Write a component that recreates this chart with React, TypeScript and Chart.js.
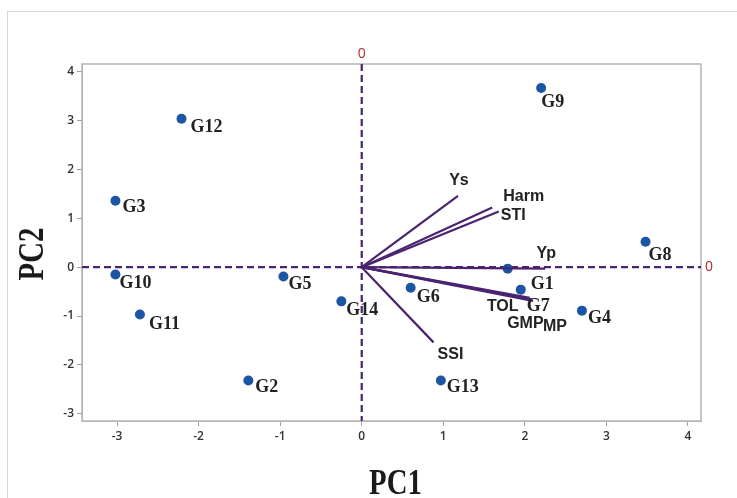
import React, { useEffect, useRef } from "react";
import { Chart, registerables } from "chart.js";

Chart.register(...registerables);

// Genotype scores (biplot points)
const genotypes = ["G1", "G2", "G3", "G4", "G5", "G6", "G7", "G8", "G9", "G10", "G11", "G12", "G13", "G14"];
const pc1Scores = [1.79, -1.39, -3.02, 2.7, -0.96, 0.6, 1.95, 3.48, 2.2, -3.02, -2.72, -2.21, 0.97, -0.25];
const pc2Scores = [-0.03, -2.32, 1.36, -0.89, -0.19, -0.42, -0.46, 0.52, 3.67, -0.15, -0.97, 3.04, -2.32, -0.7];

// Index loadings (biplot vectors)
const indices = ["Ys", "Harm", "STI", "Yp", "TOL", "GMP", "MP", "SSI"];
const pc1Loadings = [1.18, 1.6, 1.68, 2.25, 2.06, 2.08, 2.1, 0.88];
const pc2Loadings = [1.46, 1.22, 1.14, -0.03, -0.63, -0.66, -0.69, -1.54];

// Axis ticks
const xTicks = [-3, -2, -1, 0, 1, 2, 3, 4];
const yTicks = [-3, -2, -1, 0, 1, 2, 3, 4];

// label placement (pixel offsets from mark, style only)
const pointLabelOffsets: [number, number][] = [
  [23, 16], [7, 7], [7, 7], [6, 8], [5, 8], [6, 10], [6, 17], [3, 14], [0, 14], [4, 9], [9, 10], [9, 9], [6, 7], [5, 9],
];
const vectorLabelOffsets: [number, number, CanvasTextAlign][] = [
  [1, -15, "center"], [11, -11, "left"], [2, 4, "left"], [1, -15, "center"],
  [-27, 9, "center"], [-6, 24, "center"], [22, 26, "center"], [17, 12, "center"],
];

const PURPLE = "#4a2470";
const BLUE = "#1a56a3";
const RED = "#b0282c";

const overlay = {
  id: "biplotOverlay",
  beforeDraw(chart: any) {
    const ctx = chart.ctx;
    ctx.save();
    ctx.strokeStyle = "#d6d6d6";
    ctx.lineWidth = 1;
    ctx.strokeRect(7.5, 11.5, 900, 700);
    ctx.restore();
  },
  beforeDatasetsDraw(chart: any) {
    const { ctx, chartArea: a, scales } = chart;
    const x0 = scales.x.getPixelForValue(0);
    const y0 = scales.y.getPixelForValue(0);
    ctx.save();
    // plot frame
    ctx.strokeStyle = "#b4b4b4";
    ctx.lineWidth = 1.5;
    ctx.strokeRect(a.left, a.top, a.right - a.left, a.bottom - a.top);
    // reference lines
    ctx.strokeStyle = PURPLE;
    ctx.lineWidth = 2.2;
    ctx.setLineDash([7, 4]);
    ctx.beginPath();
    ctx.moveTo(x0, a.top);
    ctx.lineTo(x0, a.bottom);
    ctx.moveTo(a.left, y0);
    ctx.lineTo(a.right, y0);
    ctx.stroke();
    ctx.setLineDash([]);
    // zero markers
    ctx.fillStyle = RED;
    ctx.font = "14px 'Open Sans'";
    ctx.textAlign = "center";
    ctx.textBaseline = "middle";
    ctx.fillText("0", x0, a.top - 10);
    ctx.textAlign = "left";
    ctx.fillText("0", a.right + 4, y0);
    ctx.restore();
  },
  afterDatasetsDraw(chart: any) {
    const { ctx, scales, chartArea: a } = chart;
    ctx.save();
    // point labels
    ctx.fillStyle = "#222";
    ctx.font = "bold 18px 'Liberation Serif'";
    ctx.textAlign = "left";
    ctx.textBaseline = "middle";
    genotypes.forEach((g, i) => {
      const px = scales.x.getPixelForValue(pc1Scores[i]);
      const py = scales.y.getPixelForValue(pc2Scores[i]);
      const [dx, dy] = pointLabelOffsets[i];
      ctx.fillText(g, px + dx, py + dy);
    });
    // vector labels
    ctx.font = "bold 16px 'Liberation Sans'";
    indices.forEach((n, i) => {
      const px = scales.x.getPixelForValue(pc1Loadings[i]);
      const py = scales.y.getPixelForValue(pc2Loadings[i]);
      const [dx, dy, al] = vectorLabelOffsets[i];
      ctx.textAlign = al;
      ctx.fillText(n, px + dx, py + dy);
    });
    // axis titles
    ctx.fillStyle = "#1a1a1a";
    ctx.font = "bold 36px 'Liberation Serif'";
    ctx.textAlign = "center";
    ctx.textBaseline = "alphabetic";
    ctx.save();
    ctx.translate((a.left + a.right) / 2 + 4, 494);
    ctx.scale(0.8, 1);
    ctx.fillText("PC1", 0, 0);
    ctx.restore();
    ctx.save();
    ctx.translate(43, 254);
    ctx.rotate(-Math.PI / 2);
    ctx.scale(0.8, 1);
    ctx.fillText("PC2", 0, 0);
    ctx.restore();
    ctx.restore();
  },
};

export default function App() {
  const ref = useRef<HTMLCanvasElement | null>(null);
  useEffect(() => {
    if (!ref.current) return;
    const vectorSets = indices.map((n, i) => ({
      type: "line" as const,
      label: n,
      data: [
        { x: 0, y: 0 },
        { x: pc1Loadings[i], y: pc2Loadings[i] },
      ],
      borderColor: PURPLE,
      borderWidth: 2.2,
      pointRadius: 0,
      showLine: true,
      fill: false,
    }));
    const tickFont = { family: "'Open Sans'", size: 12, weight: "600" as any };
    const chart = new Chart(ref.current, {
      type: "scatter",
      data: {
        datasets: [
          ...vectorSets,
          {
            type: "scatter" as const,
            label: "Genotypes",
            data: genotypes.map((_, i) => ({ x: pc1Scores[i], y: pc2Scores[i] })),
            backgroundColor: BLUE,
            borderColor: BLUE,
            pointRadius: 5,
            borderWidth: 0,
          },
        ],
      } as any,
      options: {
        animation: false,
        responsive: false,
        maintainAspectRatio: false,
        layout: { padding: { top: 64, right: 36, left: 0, bottom: 0 } },
        plugins: { legend: { display: false }, tooltip: { enabled: false } },
        scales: {
          x: {
            type: "linear",
            min: -3.43,
            max: 4.16,
            afterFit: (s: any) => {
              s.height = 77;
            },
            afterBuildTicks: (s: any) => {
              s.ticks = xTicks.map((v) => ({ value: v }));
            },
            ticks: { color: "#333", font: tickFont, padding: 3, includeBounds: false },
            grid: { drawOnChartArea: false, drawTicks: true, tickLength: 5, color: "#a0a0a0" },
            border: { display: true, color: "#b4b4b4" },
          },
          y: {
            type: "linear",
            min: -3.15,
            max: 4.16,
            afterFit: (s: any) => {
              s.width = 82;
            },
            afterBuildTicks: (s: any) => {
              s.ticks = yTicks.map((v) => ({ value: v }));
            },
            ticks: { color: "#333", font: tickFont, padding: 3, includeBounds: false },
            grid: { drawOnChartArea: false, drawTicks: true, tickLength: 5, color: "#a0a0a0" },
            border: { display: true, color: "#b4b4b4" },
          },
        },
      } as any,
      plugins: [overlay],
    });
    return () => chart.destroy();
  }, []);
  return (
    <div style={{ position: "fixed", left: 0, top: 0, width: 737, height: 498, background: "#fff" }}>
      <canvas ref={ref} width={737} height={498} style={{ display: "block", width: 737, height: 498 }} />
    </div>
  );
}
